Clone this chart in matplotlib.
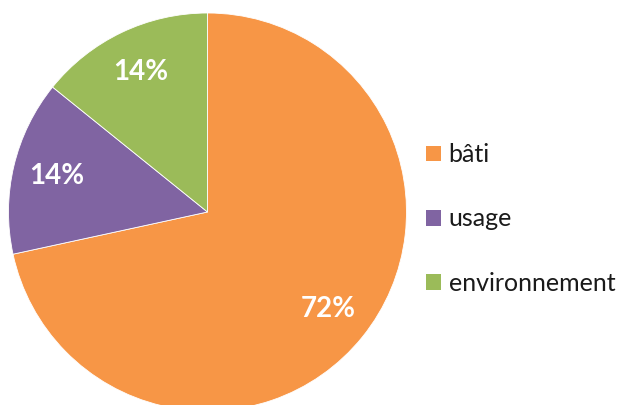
import matplotlib
matplotlib.use("Agg")
import matplotlib.pyplot as plt
from matplotlib.patches import Patch

categories = ["bâti", "usage", "environnement"]
values = [71.6, 14.2, 14.2]
colors = ["#F79646", "#8064A2", "#9BBB59"]

W, H = 617, 405
dpi = 100
fig = plt.figure(figsize=(W / dpi, H / dpi), dpi=dpi)
cx, cy, R = 207.5, 212, 199
ax = fig.add_axes([(cx - R) / W, (H - cy - R) / H, 2 * R / W, 2 * R / H])

wedges, texts, autotexts = ax.pie(
    values, colors=colors, startangle=90, counterclock=False,
    autopct=lambda p: f"{p:.0f}%", pctdistance=0.78,
    wedgeprops=dict(edgecolor="white", linewidth=0.6),
    textprops=dict(color="white", fontsize=20, fontweight="bold", family="Lato"),
)
ax.set_xlim(-1, 1)
ax.set_ylim(-1, 1)
ax.set_aspect("equal")
ax.axis("off")

handles = [Patch(facecolor=c, edgecolor="none") for c in colors]
leg = fig.legend(
    handles, categories, loc="center left",
    bbox_to_anchor=(426 / W, 1 - 219 / H),
    frameon=False, prop=dict(family="Lato", size=18),
    handlelength=0.6, handleheight=0.6, handletextpad=0.3,
    labelspacing=1.65, borderaxespad=0, borderpad=0,
)
for t in leg.get_texts():
    t.set_color("#1a1a1a")

fig.savefig("out.png", dpi=dpi)
